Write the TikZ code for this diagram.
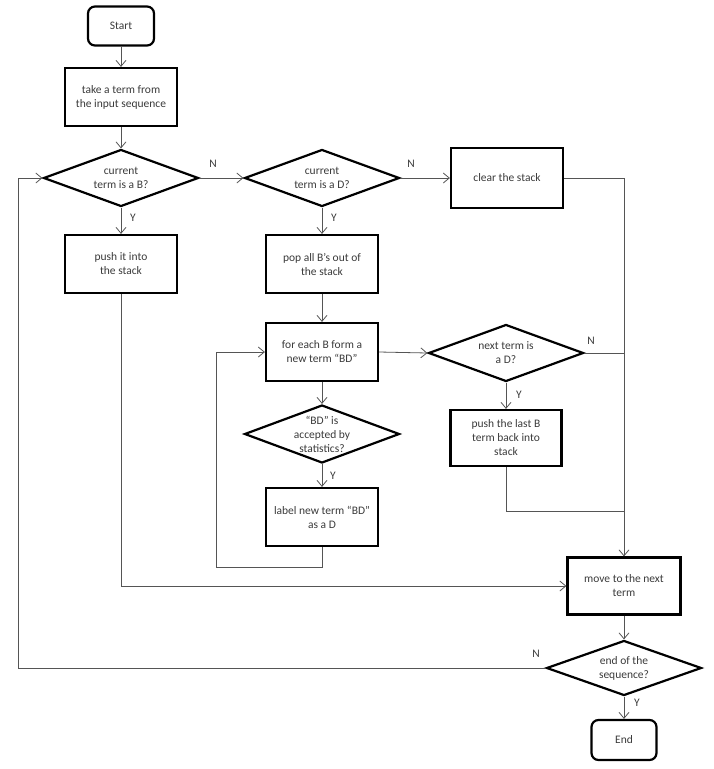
\documentclass[tikz,border=0pt]{standalone}
\usepackage{fontspec}
\setmainfont{Carlito}
\usetikzlibrary{shapes.geometric,arrows.meta}
\definecolor{txt}{HTML}{3A3A3A}
\definecolor{ln}{HTML}{555555}
\newcommand{\fs}{\fontsize{11.5}{14}\selectfont}
\begin{document}
\begin{tikzpicture}[x=1pt,y=-1pt,
 box/.style={draw=black,line width=2.2pt,minimum width=112pt,minimum height=58pt,align=center,inner sep=2pt,font=\fs,text=txt},
 term/.style={box,rounded corners=7pt,minimum width=66pt,minimum height=39pt},
 dec/.style={diamond,draw=black,line width=2.2pt,minimum width=155pt,minimum height=57pt,aspect=2.7,inner sep=0pt,align=center,font=\fs,text=txt},
 conn/.style={draw=ln,line width=0.8pt},
 arr/.style={conn,-{Straight Barb[length=6pt,width=10pt]}},
 lab/.style={font=\fs,text=txt,inner sep=1pt}]
\useasboundingbox (0,0) rectangle (713,769);
% nodes
\node[term] (start) at (121,26) {Start};
\node[box] (take) at (121,97) {take a term from\\the input sequence};
\node[dec] (d1) at (121,178) {current\\term is a B?};
\node[dec] (d2) at (322,178) {current\\term is a D?};
\node[box,minimum height=60pt] (clear) at (507,178) {clear the stack};
\node[box] (push) at (121,264) {push it into\\the stack};
\node[box] (pop) at (322,264) {pop all B’s out of\\the stack};
\node[box] (each) at (322,352) {for each B form a\\new term “BD”};
\node[dec] (next) at (506,353) {next term is\\a D?};
\node[dec,minimum height=58pt] (bd) at (322,434) {“BD” is\\accepted by\\statistics?};
\node[box,minimum height=56pt,minimum width=111pt] (plast) at (506,438) {push the last B\\term back into\\stack};
\node[box] (lbl) at (322,517) {label new term “BD”\\as a D};
\node[box,minimum height=57pt,minimum width=113pt] (move) at (624,586) {move to the next\\term};
\node[dec,minimum height=55pt] (endq) at (624,668) {end of the\\sequence?};
\node[term,minimum width=65pt,minimum height=40pt] (end) at (624,740) {End};
% coordinates
\coordinate (loopc) at (216,567);
\coordinate (jn) at (624,511);
\coordinate (lp) at (18,668);
% connectors
\draw[arr] (start) -- (take);
\draw[arr] (take) -- (d1);
\draw[arr] (d1.east) -- (d2.west);
\node[lab] (n1) at (213,164) {N};
\draw[arr] (d2.east) -- (clear.west);
\node[lab] (n2) at (411,164) {N};
\draw[arr] (d1.south) -- (push.north);
\node[lab] (y1) at (133,218) {Y};
\draw[arr] (d2.south) -- (pop.north);
\node[lab] (y2) at (334,218) {Y};
\draw[arr] (pop) -- (each);
\draw[arr] (each.east) -- (next.west);
\draw[conn] (next.east) -- (next.east -| move.north);
\node[lab] (n3) at (591,341) {N};
\draw[arr] (next.south) -- (plast.north);
\node[lab] (y3) at (519,395) {Y};
\draw[arr] (each.south) -- (bd.north);
\draw[arr] (bd.south) -- (lbl.north);
\node[lab] (y4) at (333,476) {Y};
\draw[arr] (lbl.south) |- (loopc) |- (each.west);
\draw[arr] (clear.east) -| (move.north);
\draw[conn] (plast.south) |- (jn);
\draw[arr] (push.south) |- (move.west);
\draw[arr] (move) -- (endq);
\draw[arr] (endq.south) -- (end.north);
\node[lab] (y5) at (637,703) {Y};
\draw[arr] (endq.west) -- (lp) |- (d1.west);
\node[lab] (n4) at (536,654) {N};
\end{tikzpicture}
\end{document}
